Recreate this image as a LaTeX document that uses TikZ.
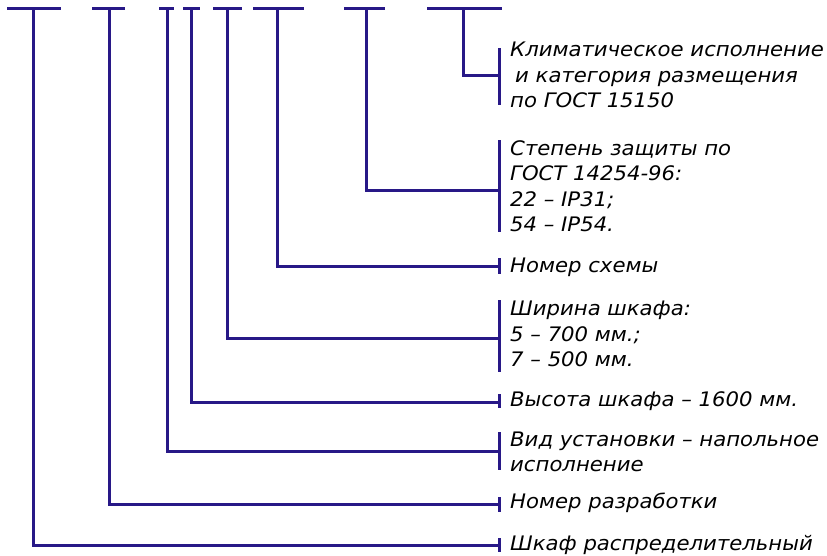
\documentclass[tikz,border=0pt]{standalone}
\usepackage{fontspec}
\setmainfont[FakeStretch=1.06]{DejaVu Sans}
\definecolor{lc}{RGB}{40,24,135}
\begin{document}
\begin{tikzpicture}[x=1pt,y=-1pt,
  ln/.style={draw=lc, line width=3pt},
  lbl/.style={anchor=west, align=left, inner sep=0pt,
    font=\itshape\fontsize{20}{25.5}\selectfont}]
\useasboundingbox[fill=white] (0,0) rectangle (827,555);
% top bars
\coordinate (a1) at (7,8);   \coordinate (z1) at (61,8);  \coordinate (v1) at (33,8);
\coordinate (a2) at (92,8);  \coordinate (z2) at (125,8); \coordinate (v2) at (109,8);
\coordinate (a3) at (159,8); \coordinate (z3) at (174,8); \coordinate (v3) at (167,8);
\coordinate (a4) at (183,8); \coordinate (z4) at (200,8); \coordinate (v4) at (191,8);
\coordinate (a5) at (213,8); \coordinate (z5) at (242,8); \coordinate (v5) at (227,8);
\coordinate (a6) at (253,8); \coordinate (z6) at (304,8); \coordinate (v6) at (277,8);
\coordinate (a7) at (344,8); \coordinate (z7) at (385,8); \coordinate (v7) at (366,8);
\coordinate (a8) at (427,8); \coordinate (z8) at (502,8); \coordinate (v8) at (463,8);
\foreach \i in {1,...,8} {\draw[ln] (a\i) -- (z\i);}
% labels
\node[lbl] (t1) at (510,545) {Шкаф распределительный};
\node[lbl] (t2) at (510,503) {Номер разработки};
\node[lbl] (t3) at (510,452) {Вид установки – напольное\\исполнение};
\node[lbl] (t4) at (510,401) {Высота шкафа – 1600 мм.};
\node[lbl] (t5) at (510,334) {Ширина шкафа:\\5 – 700 мм.;\\7 – 500 мм.};
\node[lbl] (t6) at (510,267) {Номер схемы};
\node[lbl] (t7) at (510,186) {Степень защиты по\\ГОСТ 14254-96:\\22 – IP31;\\54 – IP54.};
\node[lbl] (t8) at (510,75) {Климатическое исполнение\\\hspace*{5pt}и категория размещения\\по ГОСТ 15150};
% bracket coordinates
\coordinate (k1) at (499,545); \coordinate (k1t) at (499,538); \coordinate (k1b) at (499,552);
\coordinate (k2) at (499,504); \coordinate (k2t) at (499,497); \coordinate (k2b) at (499,512);
\coordinate (k3) at (499,451); \coordinate (k3t) at (499,432); \coordinate (k3b) at (499,470);
\coordinate (k4) at (499,402); \coordinate (k4t) at (499,394); \coordinate (k4b) at (499,408);
\coordinate (k5) at (499,338); \coordinate (k5t) at (499,300); \coordinate (k5b) at (499,372);
\coordinate (k6) at (499,266); \coordinate (k6t) at (499,258); \coordinate (k6b) at (499,274);
\coordinate (k7) at (499,190); \coordinate (k7t) at (499,140); \coordinate (k7b) at (499,232);
\coordinate (k8) at (499,75);  \coordinate (k8t) at (499,48);  \coordinate (k8b) at (499,105);
\foreach \i in {1,...,8} {
  \draw[ln] (k\i t) -- (k\i b);
  \draw[ln] (v\i) |- (k\i);
}
\end{tikzpicture}
\end{document}
